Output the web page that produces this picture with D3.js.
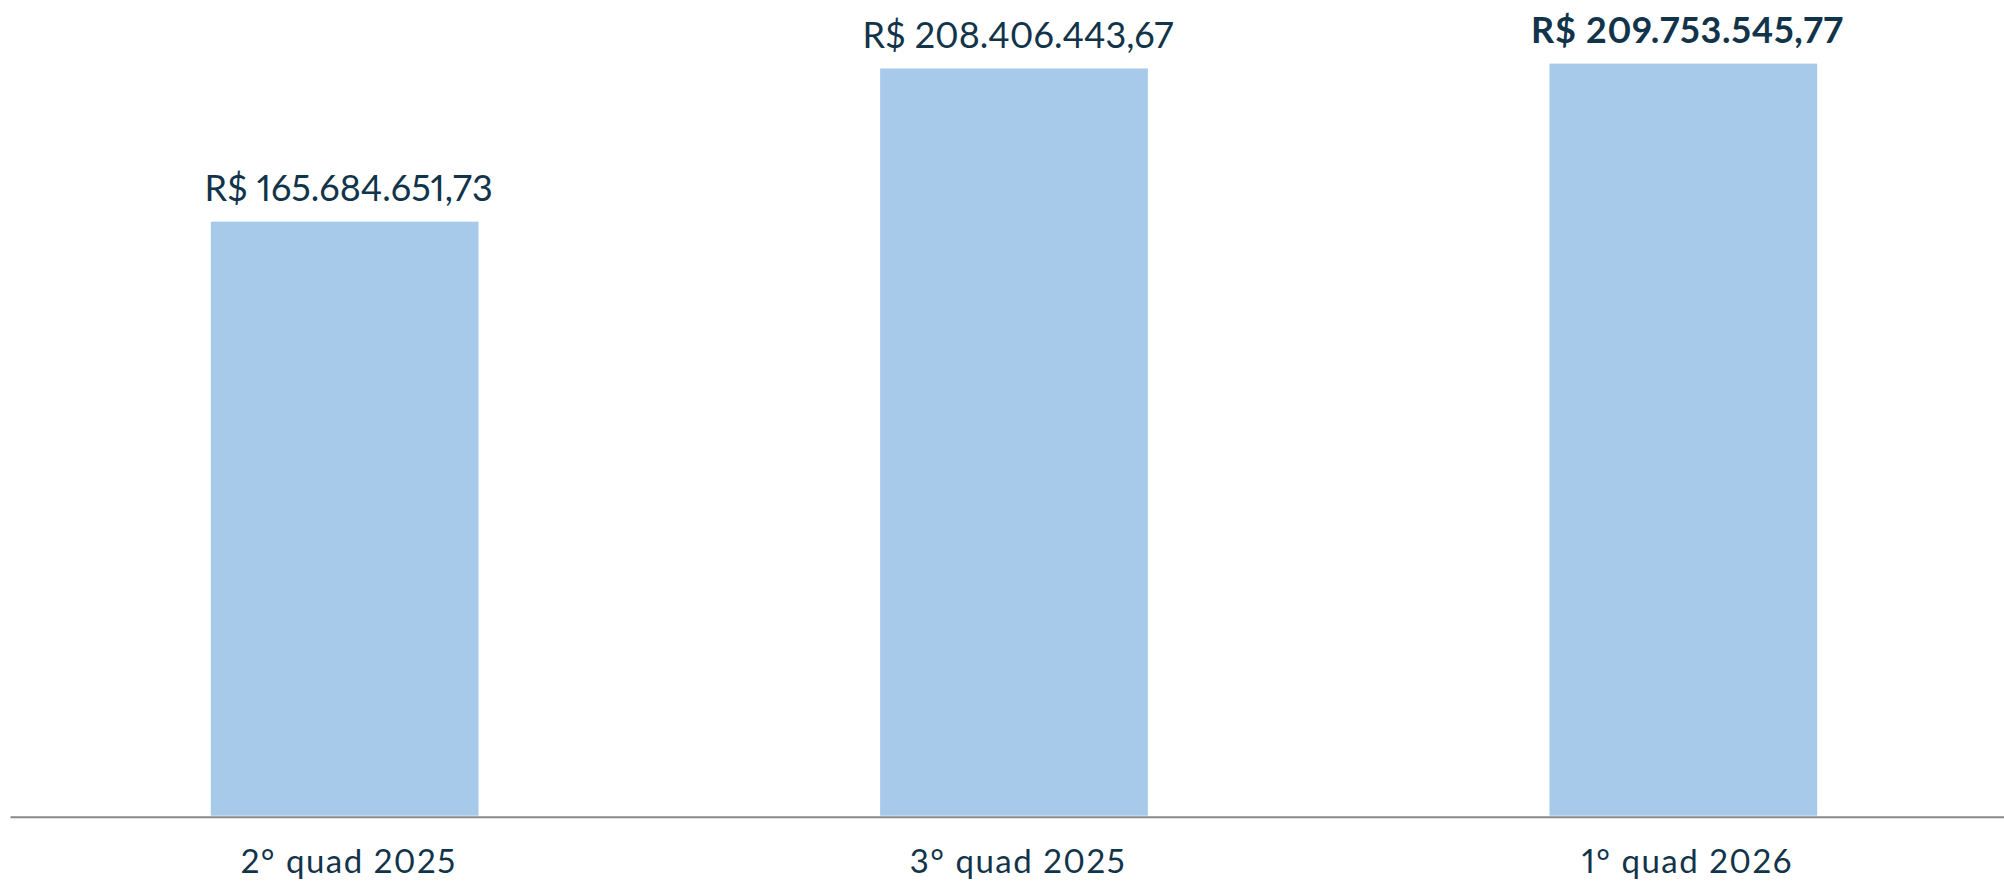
<!DOCTYPE html>
<html>
<head>
<meta charset="utf-8">
<script src="https://cdn.jsdelivr.net/npm/d3@7"></script>
<style>
  html, body { margin: 0; padding: 0; background: #ffffff; }
  svg { display: block; }
  .pn { font-variant-numeric: proportional-nums; font-feature-settings: "pnum" 1; }
</style>
</head>
<body>
<svg id="chart" width="2004" height="881"></svg>
<script>
// ---- data ----
const categories = ["2° quad 2025", "3° quad 2025", "1° quad 2026"];
const values = [165684651.73, 208406443.67, 209753545.77];
const highlighted = [false, false, true];

// ---- layout ----
const W = 2004, H = 881;
const baseY = 815.7;
const textColor = "#12344a";
const barColor = "#a7c9ea";

const loc = d3.formatLocale({
  decimal: ",", thousands: ".", grouping: [3], currency: ["R$ ", ""]
});
const fmt = loc.format("$,.2f");

const svg = d3.select("#chart");

const x = d3.scaleBand()
  .domain(categories)
  .range([10, 2018])
  .paddingInner(0.6)
  .paddingOuter(0.3);

const y = d3.scaleLinear()
  .domain([0, 227.5e6])
  .range([baseY, 0]);

const data = categories.map((c, i) => ({ c, v: values[i], h: highlighted[i] }));

svg.append("g").selectAll("rect")
  .data(data)
  .enter().append("rect")
  .attr("x", d => x(d.c))
  .attr("y", d => y(d.v))
  .attr("width", x.bandwidth())
  .attr("height", d => baseY - y(d.v))
  .attr("fill", barColor);

svg.append("g").selectAll("text")
  .data(data)
  .enter().append("text")
  .attr("class", "pn")
  .attr("x", d => x(d.c) + x.bandwidth() / 2 + 4)
  .attr("y", d => y(d.v) - 20.5)
  .attr("text-anchor", "middle")
  .attr("font-family", "Lato, sans-serif")
  .attr("font-size", 36)
  .attr("font-weight", d => d.h ? 700 : 400)
  .attr("letter-spacing", d => d.h ? 0.7 : 0)
  .attr("fill", textColor)
  .text(d => fmt(d.v));

const axis = d3.axisBottom(x).tickSize(0).tickPadding(0);
const gx = svg.append("g")
  .attr("transform", `translate(0,${baseY + 1})`)
  .call(axis);
gx.select(".domain").attr("stroke", "#888888").attr("stroke-width", 2);
gx.selectAll(".tick text")
  .attr("class", "pn")
  .attr("font-family", "Lato, sans-serif")
  .attr("font-size", 33)
  .attr("letter-spacing", 1.5)
  .attr("fill", textColor)
  .attr("dy", 0)
  .attr("y", 56.5)
  .attr("dx", 4);
</script>
</body>
</html>
